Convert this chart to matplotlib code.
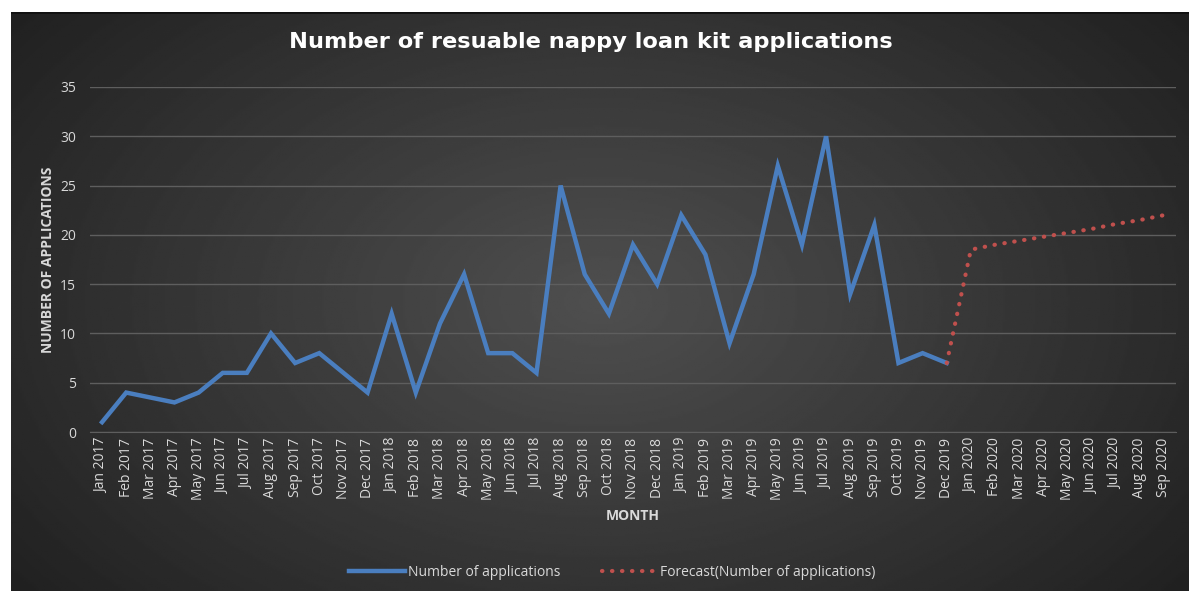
import numpy as np
import matplotlib
matplotlib.use("Agg")
import matplotlib.pyplot as plt

plt.rcParams['font.family'] = ['Open Sans', 'DejaVu Sans']

# month labels Jan 2017 .. Sep 2020
months = ["Jan", "Feb", "Mar", "Apr", "May", "Jun", "Jul", "Aug", "Sep", "Oct", "Nov", "Dec"]
month_labels = [f"{m} {y}" for y in (2017, 2018, 2019) for m in months] + \
               [f"{m} 2020" for m in months[:9]]

applications = [1, 4, 3.5, 3, 4, 6, 6, 10, 7, 8, 6, 4,
                12, 4, 11, 16, 8, 8, 6, 25, 16, 12, 19, 15,
                22, 18, 9, 16, 27, 19, 30, 14, 21, 7, 8, 7]

# forecast starts at Dec 2019
forecast = [7, 18.5, 19.0, 19.4, 19.8, 20.2, 20.6, 21.1, 21.5, 22.0]

x_all = np.arange(len(month_labels))
x_act = x_all[:len(applications)]
x_fc = x_all[len(applications) - 1:]

fig = plt.figure(figsize=(11.89, 5.91), dpi=100, facecolor="white")

# dark radial-gradient chart background
bg = fig.add_axes([11 / 1189, 0, 1 - 11 / 1189, 1 - 12 / 591])
yy, xx = np.mgrid[-1:1:300j, -1:1:600j]
r = np.sqrt((xx * 0.9) ** 2 + (yy * 0.7) ** 2)
shade = 0.31 - 0.16 * np.clip(r, 0, 1.2)
bg.imshow(shade, cmap="gray", vmin=0, vmax=1, aspect="auto", extent=[0, 1, 0, 1])
bg.set_xlim(0, 1)
bg.set_ylim(0, 1)
bg.axis("off")
bg.plot([0, 1], [1, 1], color="#111111", lw=2)

ax = fig.add_axes([90 / 1189, 1 - 432 / 591, (1176 - 90) / 1189, (432 - 87) / 591])
ax.patch.set_alpha(0)

ax.plot(x_act, applications, color="#4a7ebf", lw=3.2, solid_joinstyle="miter",
        label="Number of applications", zorder=3)
ax.plot(x_fc, forecast, color="#c0504d", lw=3.0, linestyle=(0, (0.1, 2.3)),
        dash_capstyle="round", label="Forecast(Number of applications)", zorder=3)

ax.set_xlim(-0.5, len(month_labels) - 0.5)
ax.set_ylim(0, 35)
ax.set_yticks(range(0, 36, 5))
ax.set_xticks(x_all)
ax.set_xticklabels(month_labels, rotation=90)
ax.tick_params(axis="both", colors="#d9d9d9", labelsize=10, length=0)
ax.tick_params(axis="y", pad=10)
ax.tick_params(axis="x", pad=4)
ax.grid(axis="y", color="#5e5e5e", lw=1)
ax.set_axisbelow(True)
for s in ["top", "right", "left"]:
    ax.spines[s].set_visible(False)
ax.spines["bottom"].set_color("#5e5e5e")

ax.set_ylabel("NUMBER OF APPLICATIONS", color="#d9d9d9", fontsize=10,
              fontweight="bold", labelpad=4)
ax.set_xlabel("MONTH", color="#d9d9d9", fontsize=10, fontweight="bold", labelpad=6)

fig.text(0.497, 1 - 42 / 591, "Number of resuable nappy loan kit applications",
         color="white", fontsize=16.2, fontweight="bold", family="DejaVu Sans",
         ha="center", va="center")

leg = fig.legend(loc="center", bbox_to_anchor=(0.515, 1 - 572 / 591), ncol=2,
                 frameon=False, fontsize=10, labelcolor="#d9d9d9",
                 handlelength=4, handletextpad=0.2, columnspacing=3)

fig.savefig("out.png", dpi=100, facecolor="white")
